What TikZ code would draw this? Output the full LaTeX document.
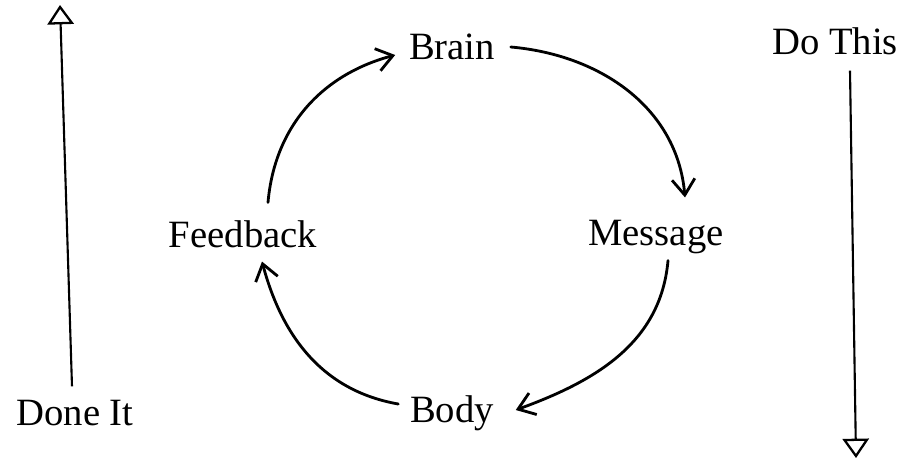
\documentclass[tikz,border=0pt]{standalone}
\usepackage{fontspec}
\setmainfont{Liberation Serif}
\usetikzlibrary{arrows.meta,positioning}

\begin{document}
\begin{tikzpicture}[
    x=0.02cm,y=-0.02cm,
    word/.style={font=\fontsize{22}{26}\selectfont,inner sep=2pt,text height=15pt,text depth=4pt},
    cyc/.style={-{Straight Barb[length=9pt,width=13pt,line width=1.6pt]},line width=1.6pt,line cap=round},
    side/.style={-{Triangle[open,length=11pt,width=15pt,line width=1.3pt]},line width=1.2pt},
]
    \useasboundingbox (0,0) rectangle (909,464);

    \node[word] (brain) at (452,50) {Brain};
    \node[word] (message) at (656,236) {Message};
    \node[word] (body) at (452,413) {Body};
    \node[word] (feedback) at (243,238) {Feedback};
    \node[word] (doneit) at (75,416) {Done It};
    \node[word] (dothis) at (835,45) {Do This};

    \coordinate (donetop) at (60,5);
    \coordinate (dobottom) at (856,458);

    % the loop
    \draw[cyc] ([shift={(25,-15)}]feedback.north) to[out=85,in=195] ([shift={(-10,5)}]brain.west);
    \draw[cyc] ([shift={(12,-3)}]brain.east) to[out=-5,in=95] ([shift={(29,-18)}]message.north);
    \draw[cyc] ([shift={(12,4)}]message.south) to[out=-95,in=20] ([shift={(18,-3)}]body.east);
    \draw[cyc] ([shift={(-8,-9)}]body.west) to[out=170,in=-75] ([shift={(19,3)}]feedback.south);

    % side arrows
    \draw[side] ([shift={(-3,-9)}]doneit.north) -- (donetop);
    \draw[side] ([shift={(15,5)}]dothis.south) -- (dobottom);
\end{tikzpicture}
\end{document}
